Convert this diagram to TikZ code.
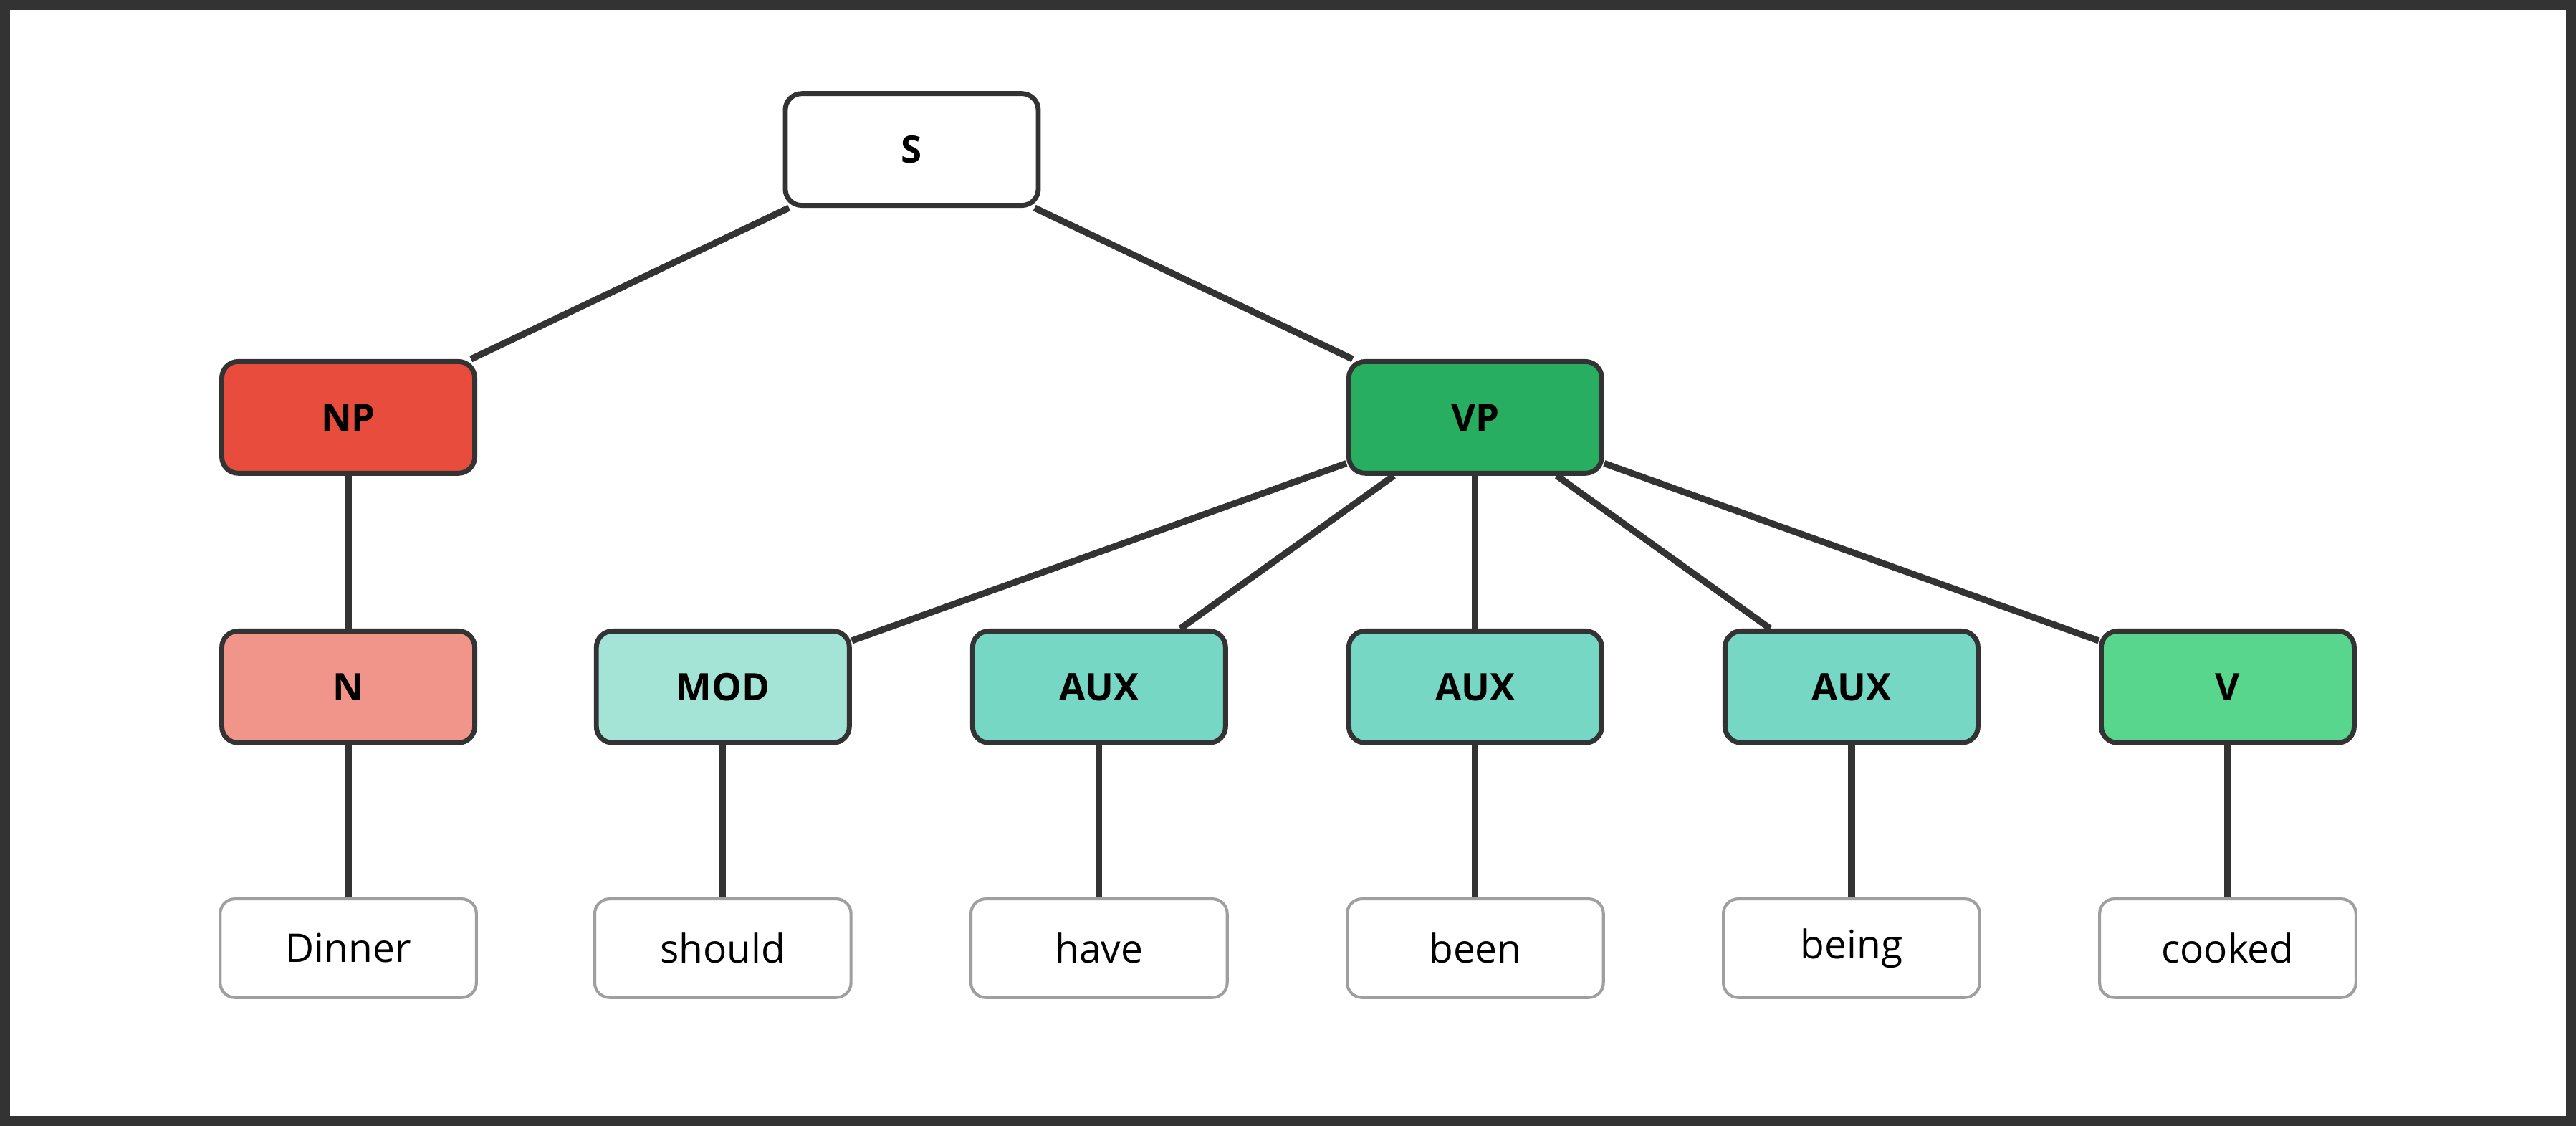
\documentclass[tikz,border=0pt]{standalone}
\usepackage{fontspec}
\setmainfont{Open Sans}
\definecolor{cNP}{HTML}{E74C3C}
\definecolor{cVP}{HTML}{27AE60}
\definecolor{cN}{HTML}{F1948A}
\definecolor{cMOD}{HTML}{A3E4D7}
\definecolor{cAUX}{HTML}{76D7C4}
\definecolor{cV}{HTML}{58D68D}
\definecolor{dk}{HTML}{333333}
\begin{document}
\begin{tikzpicture}[x=1pt,y=1pt,
  cat/.style={draw=dk,line width=3pt,rounded corners=10pt,minimum width=154pt,minimum height=68pt,font=\fontsize{23}{26}\selectfont\bfseries,text=black},
  leaf/.style={draw=gray!75,line width=1.8pt,rounded corners=9pt,fill=white,minimum width=156pt,minimum height=60pt,font=\fontsize{24}{28}\selectfont},
  edge/.style={draw=dk,line width=4pt}]
\useasboundingbox (0,0) rectangle (1568,-685);
\fill[white] (0,0) rectangle (1568,-685);
\draw[dk,line width=6pt] (3,-3) rectangle (1565,-682);
\node[cat,fill=white] (S) at (555,-91) {S};
\node[cat,fill=cNP] (NP) at (212,-254) {NP};
\node[cat,fill=cVP] (VP) at (898,-254) {VP};
\node[cat,fill=cN] (N) at (212,-418) {N};
\node[cat,fill=cMOD] (MOD) at (440,-418) {MOD};
\node[cat,fill=cAUX] (A1) at (669,-418) {AUX};
\node[cat,fill=cAUX] (A2) at (898,-418) {AUX};
\node[cat,fill=cAUX] (A3) at (1127,-418) {AUX};
\node[cat,fill=cV] (V) at (1356,-418) {V};
\node[leaf] (l1) at (212,-577) {Dinner};
\node[leaf] (l2) at (440,-577) {should};
\node[leaf] (l3) at (669,-577) {have};
\node[leaf] (l4) at (898,-577) {been};
\node[leaf] (l5) at (1127,-577) {being};
\node[leaf] (l6) at (1356,-577) {cooked};
\begin{scope}[on background layer/.try]
\end{scope}
\draw[edge] (S) -- (NP);
\draw[edge] (S) -- (VP);
\draw[edge] (NP) -- (N);
\draw[edge] (VP) -- (MOD);
\draw[edge] (VP) -- (A1);
\draw[edge] (VP) -- (A2);
\draw[edge] (VP) -- (A3);
\draw[edge] (VP) -- (V);
\draw[edge] (N) -- (l1);
\draw[edge] (MOD) -- (l2);
\draw[edge] (A1) -- (l3);
\draw[edge] (A2) -- (l4);
\draw[edge] (A3) -- (l5);
\draw[edge] (V) -- (l6);
\end{tikzpicture}
\end{document}
